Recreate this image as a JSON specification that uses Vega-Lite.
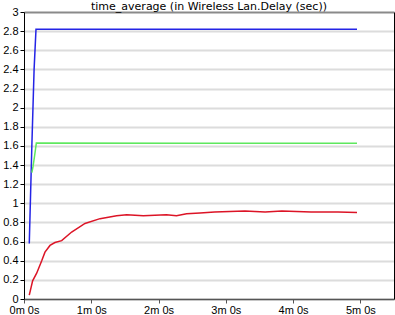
{
  "$schema": "https://vega.github.io/schema/vega-lite/v6.json",
  "autosize": "none",
  "width": 370,
  "height": 287,
  "padding": {"left": 24, "top": 12, "right": 1, "bottom": 16},
  "background": "white",
  "title": {"text": "time_average (in Wireless Lan.Delay (sec))", "fontSize": 11, "font": "DejaVu Sans", "fontWeight": "normal", "color": "#000", "offset": -6, "anchor": "middle"},
  "config": {
    "view": {"stroke": null},
    "axis": {"labelFont": "Liberation Sans", "labelFontSize": 11, "labelColor": "#000", "domainColor": "#000", "tickColor": "#000", "title": null}
  },
  "data": {"values": [
    {"t": 4.7, "v": 0.58, "s": "blue"},
    {"t": 7, "v": 1.6, "s": "blue"},
    {"t": 9, "v": 2.4, "s": "blue"},
    {"t": 10.7, "v": 2.82, "s": "blue"},
    {"t": 60, "v": 2.82, "s": "blue"},
    {"t": 150, "v": 2.82, "s": "blue"},
    {"t": 297, "v": 2.82, "s": "blue"},
    {"t": 7, "v": 1.32, "s": "green"},
    {"t": 8, "v": 1.38, "s": "green"},
    {"t": 9.5, "v": 1.5, "s": "green"},
    {"t": 11, "v": 1.63, "s": "green"},
    {"t": 150, "v": 1.627, "s": "green"},
    {"t": 297, "v": 1.627, "s": "green"},
    {"t": 4.7, "v": 0.04, "s": "red"},
    {"t": 7.7, "v": 0.19, "s": "red"},
    {"t": 11.3, "v": 0.27, "s": "red"},
    {"t": 15.8, "v": 0.4, "s": "red"},
    {"t": 18.7, "v": 0.49, "s": "red"},
    {"t": 23.2, "v": 0.56, "s": "red"},
    {"t": 27.6, "v": 0.59, "s": "red"},
    {"t": 33.6, "v": 0.61, "s": "red"},
    {"t": 42.5, "v": 0.7, "s": "red"},
    {"t": 54.4, "v": 0.79, "s": "red"},
    {"t": 67.8, "v": 0.84, "s": "red"},
    {"t": 82.6, "v": 0.87, "s": "red"},
    {"t": 91.6, "v": 0.88, "s": "red"},
    {"t": 106.4, "v": 0.87, "s": "red"},
    {"t": 127, "v": 0.88, "s": "red"},
    {"t": 136, "v": 0.87, "s": "red"},
    {"t": 145, "v": 0.89, "s": "red"},
    {"t": 157, "v": 0.9, "s": "red"},
    {"t": 170, "v": 0.91, "s": "red"},
    {"t": 197, "v": 0.92, "s": "red"},
    {"t": 215, "v": 0.91, "s": "red"},
    {"t": 230, "v": 0.92, "s": "red"},
    {"t": 256, "v": 0.91, "s": "red"},
    {"t": 280, "v": 0.91, "s": "red"},
    {"t": 297, "v": 0.905, "s": "red"}
  ]},
  "layer": [
    {
      "mark": {"type": "line", "strokeWidth": 1.5, "clip": true},
      "encoding": {
        "x": {"field": "t", "type": "quantitative", "scale": {"domain": [0, 330], "nice": false},
          "axis": {"values": [0, 60, 120, 180, 240, 300], "labelExpr": "floor(datum.value/60) + 'm ' + (datum.value%60) + 's'", "grid": false, "tickSize": 4, "labelPadding": 1, "labelFlush": false, "domainColor": "#555", "domainWidth": 1.5, "tickColor": "#555"}},
        "y": {"field": "v", "type": "quantitative", "scale": {"domain": [0, 3], "nice": false},
          "axis": {"values": [0, 0.2, 0.4, 0.6, 0.8, 1, 1.2, 1.4, 1.6, 1.8, 2, 2.2, 2.4, 2.6, 2.8, 3], "format": "~g", "tickSize": 4, "labelPadding": 2,
            "gridColor": {"condition": {"test": "datum.value == 3", "value": "#8a8a8a"}, "value": "#dcdcdc"}, "gridWidth": 2, "labelFlush": false}},
        "color": {"field": "s", "type": "nominal", "scale": {"domain": ["blue", "green", "red"], "range": ["#2424e6", "#5ee85e", "#dc1426"]}, "legend": null},
        "detail": {"field": "s"}
      }
    },
    {
      "mark": {"type": "point", "opacity": 0},
      "encoding": {
        "y": {"field": "v", "type": "quantitative", "axis": {"orient": "right", "labels": false, "ticks": false, "grid": false, "domainColor": "#000"}}
      }
    }
  ],
  "resolve": {"axis": {"y": "independent"}}
}
